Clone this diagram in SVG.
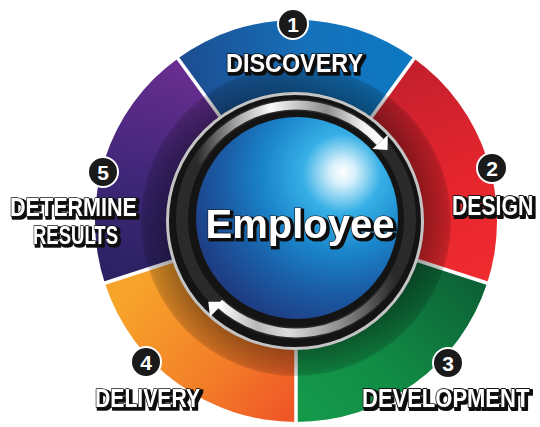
<svg xmlns="http://www.w3.org/2000/svg" width="540" height="427" viewBox="0 0 540 427">
  <defs>
    <linearGradient id="gBlue" gradientUnits="userSpaceOnUse" x1="178" y1="100" x2="414" y2="60">
      <stop offset="0" stop-color="#1d4a8e"/>
      <stop offset="0.6" stop-color="#1572bb"/>
      <stop offset="1" stop-color="#0b79c2"/>
    </linearGradient>
    <linearGradient id="gRed" gradientUnits="userSpaceOnUse" x1="400" y1="60" x2="480" y2="280">
      <stop offset="0" stop-color="#c11f2e"/>
      <stop offset="0.55" stop-color="#e5252d"/>
      <stop offset="1" stop-color="#ef2b2f"/>
    </linearGradient>
    <linearGradient id="gGreen" gradientUnits="userSpaceOnUse" x1="470" y1="280" x2="320" y2="420">
      <stop offset="0" stop-color="#0d6236"/>
      <stop offset="0.6" stop-color="#118c45"/>
      <stop offset="1" stop-color="#14984a"/>
    </linearGradient>
    <linearGradient id="gOrange" gradientUnits="userSpaceOnUse" x1="130" y1="290" x2="290" y2="420">
      <stop offset="0" stop-color="#f7a42b"/>
      <stop offset="0.55" stop-color="#f37f28"/>
      <stop offset="1" stop-color="#ef5527"/>
    </linearGradient>
    <linearGradient id="gPurple" gradientUnits="userSpaceOnUse" x1="180" y1="60" x2="110" y2="290">
      <stop offset="0" stop-color="#6b2e91"/>
      <stop offset="0.55" stop-color="#3d2677"/>
      <stop offset="1" stop-color="#28215f"/>
    </linearGradient>
    <!-- inner shadow band of the coloured ring -->
    <radialGradient id="gShade" gradientUnits="userSpaceOnUse" cx="296" cy="221" r="156">
      <stop offset="0.8" stop-color="#000" stop-opacity="0.4"/>
      <stop offset="0.97" stop-color="#000" stop-opacity="0.2"/>
      <stop offset="1" stop-color="#000" stop-opacity="0.12"/>
    </radialGradient>
    <radialGradient id="gBall" gradientUnits="userSpaceOnUse" cx="338" cy="178" r="178" fx="343" fy="172">
      <stop offset="0" stop-color="#ffffff"/>
      <stop offset="0.07" stop-color="#d6f0fb"/>
      <stop offset="0.22" stop-color="#36b0e6"/>
      <stop offset="0.44" stop-color="#1a84ca"/>
      <stop offset="0.65" stop-color="#1a5ea7"/>
      <stop offset="0.86" stop-color="#1e3f86"/>
      <stop offset="1" stop-color="#25306e"/>
    </radialGradient>
    <linearGradient id="gArrowTop" gradientUnits="userSpaceOnUse" x1="197" y1="0" x2="382" y2="0">
      <stop offset="0" stop-color="#2c2c2c"/>
      <stop offset="0.22" stop-color="#a8a8a8"/>
      <stop offset="0.4" stop-color="#fafafa"/>
      <stop offset="0.7" stop-color="#8e8e8e"/>
      <stop offset="0.9" stop-color="#f0f0f0"/>
      <stop offset="1" stop-color="#ffffff"/>
    </linearGradient>
    <linearGradient id="gArrowBot" gradientUnits="userSpaceOnUse" x1="395" y1="0" x2="218" y2="0">
      <stop offset="0" stop-color="#2a2a2a"/>
      <stop offset="0.3" stop-color="#8a8a8a"/>
      <stop offset="0.6" stop-color="#dcdcdc"/>
      <stop offset="0.78" stop-color="#b9b9b9"/>
      <stop offset="1" stop-color="#ffffff"/>
    </linearGradient>
    <!-- hard offset shadow for outlined lettering -->
    <filter id="letterShadow" x="-10%" y="-20%" width="120%" height="150%">
      <feMorphology in="SourceAlpha" operator="dilate" radius="0.6" result="thick"/>
      <feOffset in="thick" dx="1.8" dy="1.8" result="off"/>
      <feFlood flood-color="#111111"/>
      <feComposite in2="off" operator="in" result="shadow"/>
      <feMerge>
        <feMergeNode in="shadow"/>
        <feMergeNode in="SourceGraphic"/>
      </feMerge>
    </filter>
  </defs>
  <style>
    .divider { stroke: #ffffff; stroke-width: 3.5; fill: none; }
    .label { font-family: "Liberation Sans", Arial, sans-serif; font-weight: bold; fill: #ffffff; stroke: #151515; stroke-width: 1.6; paint-order: stroke; stroke-linejoin: round; filter: url(#letterShadow); }
    .badge { fill: #1a1a1a; stroke: #ffffff; stroke-width: 2; }
    .badge-num { font-family: "Liberation Sans", Arial, sans-serif; font-weight: bold; font-size: 21px; fill: #ffffff; text-anchor: middle; }
    .title { font-family: "Liberation Sans", Arial, sans-serif; font-weight: bold; font-size: 40px; text-anchor: middle; fill: #ffffff; stroke: #151515; stroke-width: 1.2; paint-order: stroke; filter: url(#letterShadow); }
  </style>

  <rect width="540" height="427" fill="#ffffff"/>

  <!-- coloured ring segments -->
  <g id="ring">
    <path id="seg-discovery" fill="url(#gBlue)" d="M177.85,58.39 A201,201 0 0 1 414.15,58.39 L370.65,118.26 A127,127 0 0 0 221.35,118.26 Z"/>
    <path id="seg-design" fill="url(#gRed)" d="M414.15,58.39 A201,201 0 0 1 487.17,283.11 L416.79,260.24 A127,127 0 0 0 370.65,118.26 Z"/>
    <path id="seg-development" fill="url(#gGreen)" d="M487.17,283.11 A201,201 0 0 1 296,422 L296,348 A127,127 0 0 0 416.79,260.24 Z"/>
    <path id="seg-delivery" fill="url(#gOrange)" d="M296,422 A201,201 0 0 1 104.83,283.11 L175.21,260.24 A127,127 0 0 0 296,348 Z"/>
    <path id="seg-results" fill="url(#gPurple)" d="M104.83,283.11 A201,201 0 0 1 177.85,58.39 L221.35,118.26 A127,127 0 0 0 175.21,260.24 Z"/>
    <!-- white gaps between segments -->
    <line class="divider" x1="221.35" y1="118.26" x2="176.1" y2="56.0"/>
    <line class="divider" x1="370.65" y1="118.26" x2="415.9" y2="56.0"/>
    <line class="divider" x1="416.79" y1="260.24" x2="490.0" y2="284.0"/>
    <line class="divider" x1="296" y1="348" x2="296" y2="427"/>
    <line class="divider" x1="175.21" y1="260.24" x2="102.0" y2="284.0"/>
    <!-- darker inner band -->
    <circle cx="296" cy="221" r="141" fill="none" stroke="url(#gShade)" stroke-width="28"/>
  </g>

  <!-- central hub -->
  <g id="hub">
    <circle cx="295" cy="221" r="127.5" fill="#141414" stroke="#c4c4c4" stroke-width="3"/>
    <circle cx="296" cy="219" r="114" fill="none" stroke="#2a2a2a" stroke-width="12"/>
  </g>

  <!-- cycle arrows -->
  <g id="connectors">
    <path d="M197.3,162 A114,114 0 0 1 380.05,141.98" fill="none" stroke="url(#gArrowTop)" stroke-width="9"/>
    <polygon points="387.8,134.9 372.3,149.1 387.5,150.1" fill="#ffffff"/>
    <path d="M394.7,276 A114,114 0 0 1 219,303.05" fill="none" stroke="url(#gArrowBot)" stroke-width="9"/>
    <polygon points="225,301.7 210,316.7 208.3,301.7" fill="#ffffff"/>
  </g>

  <g id="employee">
    <circle cx="297" cy="218" r="101" fill="url(#gBall)"/>
    <text class="title" x="300" y="238">Employee</text>
  </g>

  <g id="discovery">
    <text class="label" x="226" y="72" font-size="26" textLength="137" lengthAdjust="spacingAndGlyphs">DISCOVERY</text>
    <circle class="badge" cx="293" cy="24" r="15"/>
    <text class="badge-num" x="293" y="31.5">1</text>
  </g>

  <g id="design">
    <circle class="badge" cx="492" cy="168" r="15"/>
    <text class="badge-num" x="492" y="175.5">2</text>
    <text class="label" transform="translate(452,215) scale(1,1.3)" x="0" y="0" font-size="21.2">DESIGN</text>
  </g>

  <g id="development">
    <circle class="badge" cx="448" cy="363" r="15"/>
    <text class="badge-num" x="448" y="370.5">3</text>
    <text class="label" transform="translate(362,407) scale(1,1.2)" x="0" y="0" font-size="22">DEVELOPMENT</text>
  </g>

  <g id="delivery">
    <circle class="badge" cx="146" cy="362" r="15"/>
    <text class="badge-num" x="146" y="369.5">4</text>
    <text class="label" x="95" y="407" font-size="26" textLength="105" lengthAdjust="spacingAndGlyphs">DELIVERY</text>
  </g>

  <g id="determine-results">
    <circle class="badge" cx="103" cy="172" r="15"/>
    <text class="badge-num" x="103" y="179.5">5</text>
    <text class="label" x="10" y="216" font-size="25" textLength="127" lengthAdjust="spacingAndGlyphs">DETERMINE</text>
    <text class="label" x="33" y="244" font-size="25" textLength="85" lengthAdjust="spacingAndGlyphs">RESULTS</text>
  </g>
</svg>
